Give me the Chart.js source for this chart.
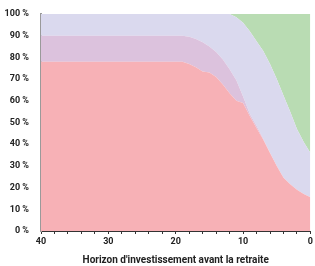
<!DOCTYPE html>
<html>
<head>
<meta charset="utf-8">
<script src="https://cdn.jsdelivr.net/npm/chart.js@4"></script>
<style>
  html, body { margin: 0; padding: 0; background: #fff; }
  #wrap { width: 315px; height: 266px; }
</style>
</head>
<body>
<div id="wrap"><canvas id="chart"></canvas></div>
<script>
// Années avant la retraite (40 -> 0)
const years = [40,39,38,37,36,35,34,33,32,31,30,29,28,27,26,25,24,23,22,21,20,19,18,17,16,15,14,13,12,11,10,9,8,7,6,5,4,3,2,1,0];

// Parts de chaque couche (%), dans l'ordre des années ci-dessus
const partRose = [78,78,78,78,78,78,78,78,78,78,78,78,78,78,78,78,78,78,78,78,78,78,77,75.5,73.5,73,71,67.5,63.5,60,59,53,47.5,42,36,30,24.5,21.5,19,17,15.5];
const partMauve = [12,12,12,12,12,12,12,12,12,12,12,12,12,12,12,12,12,12,12,12,12,12,12.5,13,13.5,12,11.5,11.5,11,9.5,3,1,1,0.5,0,0,0,0,0,0,0];
const partLavande = [10,10,10,10,10,10,10,10,10,10,10,10,10,10,10,10,10,10,10,10,10,10,10.5,11.5,13,15,17.5,21,25.5,29,34,38,39,40.5,41,40,38,33.5,28,24,20.5];
const partVert = [0,0,0,0,0,0,0,0,0,0,0,0,0,0,0,0,0,0,0,0,0,0,0,0,0,0,0,0,0,1.5,4,8,12.5,17,23,30,37.5,45,53,59,64];

const yTicks = [0,10,20,30,40,50,60,70,80,90,100];
const xTitle = "Horizon d'investissement avant la retraite";

const COLORS = ['#f7b1b6', '#dcc2dd', '#dad9ee', '#b9dcb3'];

function toPoints(values) {
    return values.map((v, i) => ({ x: years[i], y: v }));
}

const series = [partRose, partMauve, partLavande, partVert];
const datasets = series.map((values, index) => ({
    data: toPoints(values),
    backgroundColor: COLORS[index],
    borderWidth: 0,
    pointRadius: 0,
    fill: index === 0 ? 'origin' : '-1',
    tension: 0
}));

const tickFont = { family: 'Roboto', size: 9, weight: 'bold' };

new Chart(document.getElementById('chart'), {
    type: 'line',
    data: { datasets },
    options: {
        responsive: true,
        maintainAspectRatio: false,
        animation: false,
        layout: { padding: { left: 0, right: 4, top: 14, bottom: 0 } },
        plugins: {
            legend: { display: false },
            tooltip: { enabled: false }
        },
        scales: {
            x: {
                type: 'linear',
                reverse: true,
                min: 0,
                max: 40,
                grid: { drawOnChartArea: false, tickLength: 3, color: '#333', tickWidth: 1 },
                border: { color: '#333', width: 1 },
                ticks: {
                    stepSize: 2,
                    autoSkip: false,
                    maxRotation: 0,
                    padding: 2,
                    color: '#222',
                    font: tickFont,
                    callback: v => (v % 10 === 0 ? String(v) : '')
                },
                title: {
                    display: true,
                    text: xTitle,
                    color: '#222',
                    font: { family: 'Roboto', size: 10, weight: 'bold' },
                    padding: { top: 2, bottom: 0 }
                },
                afterFit: s => { s.height = 35; }
            },
            y: {
                stacked: true,
                min: 0,
                max: 100,
                afterBuildTicks: s => { s.ticks = yTicks.map(v => ({ value: v })); },
                grid: { display: false },
                border: { color: '#9a9a9a', width: 2 },
                ticks: {
                    padding: 4,
                    color: '#222',
                    font: tickFont,
                    callback: v => v + ' %'
                },
                afterFit: s => { s.width = 41; }
            }
        }
    }
});
</script>
</body>
</html>
